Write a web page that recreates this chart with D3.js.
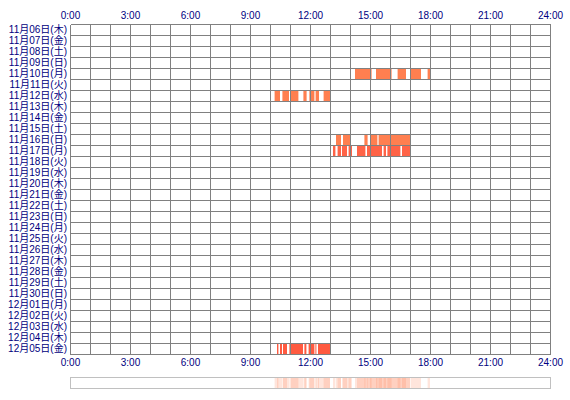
<!DOCTYPE html>
<html>
<head>
<meta charset="utf-8">
<script src="https://cdn.jsdelivr.net/npm/d3@7"></script>
<style>
  body { margin: 0; background: #fff; }
  text { font-family: "Liberation Sans", "Noto Sans CJK JP", sans-serif; fill: #000080; }
</style>
</head>
<body>
<div id="chart"></div>
<script>
// Days shown as rows
const days = [
    '11月06日(木)', '11月07日(金)', '11月08日(土)', '11月09日(日)', '11月10日(月)',
    '11月11日(火)', '11月12日(水)', '11月13日(木)', '11月14日(金)', '11月15日(土)',
    '11月16日(日)', '11月17日(月)', '11月18日(火)', '11月19日(水)', '11月20日(木)',
    '11月21日(金)', '11月22日(土)', '11月23日(日)', '11月24日(月)', '11月25日(火)',
    '11月26日(水)', '11月27日(木)', '11月28日(金)', '11月29日(土)', '11月30日(日)',
    '12月01日(月)', '12月02日(火)', '12月03日(水)', '12月04日(木)', '12月05日(金)'
];

// Hour ticks for labels
const hourTicks = [0, 3, 6, 9, 12, 15, 18, 21, 24];

// Active periods per day, [start hour, end hour]
const nov10 = [[14.25, 15.08], [15.3, 16.08], [16.38, 16.8], [17.03, 17.55], [17.88, 18.0]];
const nov12 = [[10.23, 10.5], [10.62, 10.95], [11.05, 11.42], [11.67, 11.83], [11.97, 12.22], [12.28, 12.45], [12.68, 13.0]];
const nov16 = [[13.3, 13.55], [13.65, 14.05], [14.72, 14.88], [15.0, 15.37], [15.43, 17.0]];
const nov17 = [[13.15, 13.27], [13.38, 13.55], [13.6, 13.85], [13.93, 14.1], [14.35, 14.77], [14.85, 15.6], [15.68, 15.8], [15.87, 16.52], [16.6, 17.0]];
const dec05 = [[10.35, 10.42], [10.5, 10.6], [10.65, 10.85], [10.97, 11.65], [11.72, 11.82], [11.93, 12.22], [12.27, 12.32], [12.4, 13.0]];

const activity = [
    { day: '11月10日(月)', spans: nov10 },
    { day: '11月12日(水)', spans: nov12 },
    { day: '11月16日(日)', spans: nov16 },
    { day: '11月17日(月)', spans: nov17 },
    { day: '12月05日(金)', spans: dec05 }
];

const w = 570;
const h = 400;
const gLeft = 70, gRight = 550, gTop = 24, gBottom = 354;

const barColor = { '11月17日(月)': '#ff6347', '12月05日(金)': '#ff5a40' };

const svg = d3.select('#chart')
    .append('svg')
    .attr('width', w)
    .attr('height', h);

// Scales
const xScale = d3.scaleLinear().domain([0, 24]).range([gLeft, gRight]);
const yScale = d3.scaleBand().domain(days).range([gTop, gBottom]);

// Bars
const flat = activity.flatMap(a => a.spans.map(s => ({ day: a.day, start: s[0], end: s[1] })));

svg.append('g')
    .selectAll('rect')
    .data(flat)
    .enter()
    .append('rect')
    .attr('x', d => xScale(d.start))
    .attr('y', d => yScale(d.day) + 0.5)
    .attr('width', d => xScale(d.end) - xScale(d.start))
    .attr('height', yScale.bandwidth())
    .attr('fill', d => barColor[d.day] || '#ff7f50');

// Grid
const grid = svg.append('g')
    .attr('stroke', '#808080')
    .attr('stroke-width', 1)
    .attr('shape-rendering', 'crispEdges');

grid.selectAll('line.v')
    .data(d3.range(0, 25))
    .enter()
    .append('line')
    .attr('x1', d => xScale(d) + 0.5)
    .attr('x2', d => xScale(d) + 0.5)
    .attr('y1', gTop + 0.5)
    .attr('y2', gBottom + 0.5);

grid.selectAll('line.h')
    .data(days.concat(['end']))
    .enter()
    .append('line')
    .attr('x1', gLeft + 0.5)
    .attr('x2', gRight + 0.5)
    .attr('y1', (d, i) => gTop + i * yScale.bandwidth() + 0.5)
    .attr('y2', (d, i) => gTop + i * yScale.bandwidth() + 0.5);

// Axes
const fmt = d => d + ':00';

const xTop = svg.append('g')
    .attr('transform', `translate(0, ${gTop - 5})`)
    .call(d3.axisTop(xScale).tickValues(hourTicks).tickFormat(fmt).tickSize(0).tickPadding(0));

const xBottom = svg.append('g')
    .attr('transform', `translate(0, ${gBottom + 5})`)
    .call(d3.axisBottom(xScale).tickValues(hourTicks).tickFormat(fmt).tickSize(0).tickPadding(0));

const yAxis = svg.append('g')
    .attr('transform', `translate(${gLeft - 3}, 0)`)
    .call(d3.axisLeft(yScale).tickSize(0).tickPadding(0));

[xTop, xBottom, yAxis].forEach(g => {
    g.select('.domain').remove();
    g.selectAll('text')
        .attr('font-size', 10)
        .attr('fill', '#000080')
        .style('font-family', '"Liberation Sans", "Noto Sans CJK JP", sans-serif');
});

// Summary strip
const strip = svg.append('g');

strip.selectAll('rect')
    .data(flat)
    .enter()
    .append('rect')
    .attr('x', d => xScale(d.start))
    .attr('y', 377)
    .attr('width', d => xScale(d.end) - xScale(d.start))
    .attr('height', 11)
    .attr('fill', '#ff7f50')
    .attr('opacity', 0.2);

strip.append('rect')
    .attr('x', gLeft + 0.5)
    .attr('y', 377.5)
    .attr('width', gRight - gLeft)
    .attr('height', 11)
    .attr('fill', 'none')
    .attr('stroke', '#c0c0c0');
</script>
</body>
</html>
